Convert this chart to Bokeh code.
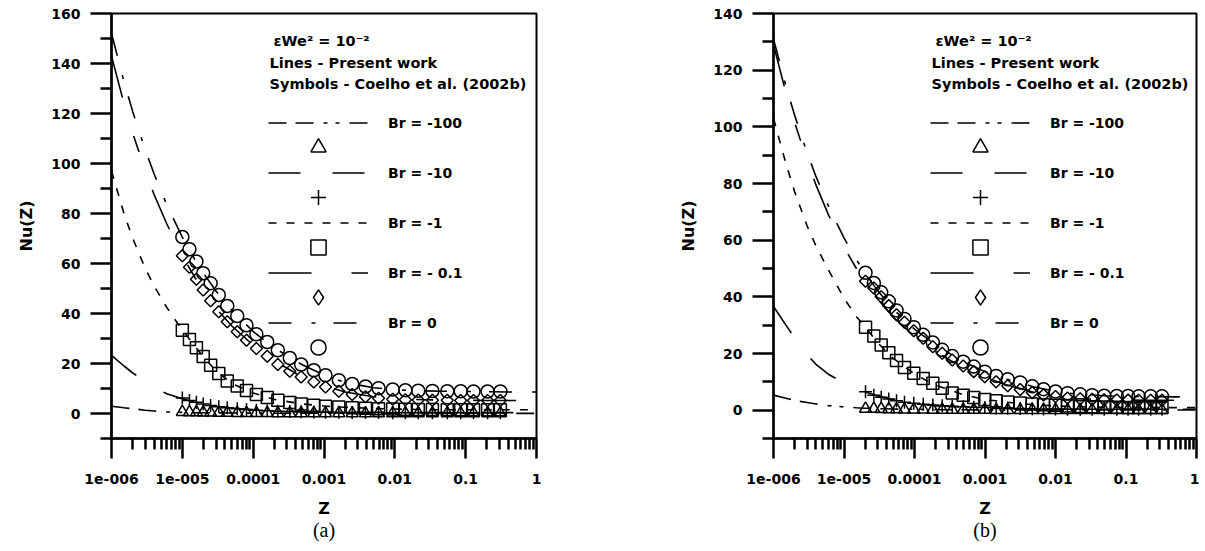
import math
from bokeh.plotting import figure
from bokeh.layouts import row
from bokeh.models import Range1d, FixedTicker, Legend, LegendItem, Label, Title
from bokeh.embed import file_html
from bokeh.resources import INLINE

# ---------------- data ----------------
x_tick_values = [1e-6, 1e-5, 1e-4, 1e-3, 1e-2, 1e-1, 1.0]
x_tick_labels = ["1e-006", "1e-005", "0.0001", "0.001", "0.01", "0.1", "1"]
legend_labels = ["Br = -100", "Br = -10", "Br = -1", "Br = - 0.1", "Br = 0"]

z_line = [1e-6, 1.5e-6, 2e-6, 3e-6, 4e-6, 6e-6, 1e-5, 1.5e-5, 2e-5, 3e-5, 5e-5,
          1e-4, 2e-4, 5e-4, 1e-3, 2e-3, 5e-3, 1e-2, 2e-2, 5e-2, 0.1, 0.2, 0.5, 1.0]

# panel (a) lines
a_line_br100 = [2.9, 2.3, 1.9, 1.3, 1.0, 0.65, 0.45, 0.35, 0.3, 0.25, 0.2, 0.15, 0.12, 0.1, 0.08, 0.07, 0.06, 0.05, 0.05, 0.05, 0.05, 0.05, 0.05, 0.05]
a_line_br10 = [23.3, 19, 16.2, 12.8, 10.6, 7.9, 5.9, 4.6, 3.8, 3.0, 2.2, 1.5, 1.1, 0.75, 0.6, 0.5, 0.42, 0.38, 0.35, 0.35, 0.35, 0.35, 0.35, 0.35]
a_line_br1 = [97, 80, 70, 58, 51, 42.5, 33.3, 27, 22.5, 17, 12, 8.2, 5.6, 3.8, 3.0, 2.5, 2.0, 1.8, 1.6, 1.5, 1.5, 1.5, 1.5, 1.5]
a_line_br01 = [143, 124, 112, 97, 87.5, 76, 63, 54.5, 48.8, 42, 35, 27.3, 21, 14.5, 11.0, 8.6, 6.7, 6.0, 5.6, 5.35, 5.25, 5.2, 5.2, 5.2]
a_line_br0 = [152, 132.8, 120.6, 105.4, 95.8, 83.6, 70.5, 61.6, 56.0, 48.9, 41.3, 32.8, 26.2, 19.4, 15.4, 12.4, 10.3, 9.5, 9.1, 8.9, 8.8, 8.7, 8.6, 8.6]

# panel (a) symbols
z_sym_a = [1.0e-5, 1.26e-5, 1.58e-5, 1.97e-5, 2.51e-5, 3.27e-5, 4.31e-5, 5.96e-5, 8.05e-5, 1.11e-4,
           1.58e-4, 2.23e-4, 3.29e-4, 4.76e-4, 7.18e-4, 1.05e-3, 1.62e-3, 2.50e-3, 3.85e-3, 5.89e-3,
           9.33e-3, 1.41e-2, 2.14e-2, 3.39e-2, 5.50e-2, 8.51e-2, 0.129, 0.204, 0.309]
a_sym_br100 = [0.6, 0.5, 0.45, 0.4, 0.35, 0.3, 0.25, 0.2, 0.2, 0.15, 0.15, 0.1, 0.1, 0.1, 0.1, 0.05, 0.05, 0.05, 0.05, 0.05, 0.05, 0.05, 0.05, 0.05, 0.05, 0.05, 0.05, 0.05, 0.05]
a_sym_br10 = [6.2, 5.2, 4.5, 3.8, 3.2, 2.7, 2.3, 1.9, 1.6, 1.3, 1.1, 0.95, 0.8, 0.7, 0.6, 0.55, 0.5, 0.45, 0.4, 0.4, 0.35, 0.35, 0.3, 0.3, 0.3, 0.3, 0.3, 0.3, 0.3]
a_sym_br1 = [33.3, 29.6, 26.3, 22.8, 19.3, 16.0, 13.0, 11.0, 9.2, 7.6, 6.4, 5.3, 4.4, 3.8, 3.3, 2.9, 2.6, 2.3, 2.1, 1.9, 1.8, 1.7, 1.6, 1.6, 1.5, 1.5, 1.5, 1.5, 1.5]
a_sym_br01 = [63.1, 58.5, 53.7, 49.4, 45.1, 40.7, 36.7, 32.7, 29.3, 26.0, 22.9, 19.6, 16.9, 14.6, 12.6, 10.6, 8.9, 7.6, 6.7, 6.1, 5.7, 5.5, 5.4, 5.3, 5.3, 5.2, 5.2, 5.2, 5.2]
a_sym_br0 = [70.6, 65.7, 60.8, 56.1, 52.1, 47.4, 43.0, 39.0, 35.3, 31.7, 28.6, 25.3, 22.2, 19.6, 17.3, 15.3, 13.3, 11.8, 10.8, 10.1, 9.6, 9.3, 9.1, 9.0, 8.9, 8.9, 8.8, 8.8, 8.8]

# panel (b) lines
b_line_br100 = [5.3, 4.2, 3.4, 2.7, 2.2, 1.6, 1.15, 0.85, 0.7, 0.55, 0.4, 0.3, 0.2, 0.15, 0.1, 0.08, 0.06, 0.05, 0.05, 0.05, 0.05, 0.05, 0.05, 0.05]
b_line_br10 = [36.6, 30, 25.5, 19.5, 16.2, 12.7, 9.6, 7.6, 6.4, 5.1, 3.7, 2.4, 1.6, 1.0, 0.75, 0.55, 0.4, 0.35, 0.3, 0.3, 0.3, 0.3, 0.3, 0.3]
b_line_br1 = [103, 87, 77, 65, 58, 49.5, 39.5, 33, 29.3, 23.8, 18.3, 12.7, 8.8, 5.4, 3.8, 2.8, 1.9, 1.5, 1.2, 1.0, 0.95, 0.9, 0.9, 0.9]
b_line_br01 = [129, 112, 101.5, 88, 79.5, 69, 57.5, 50, 45.3, 39.3, 32.8, 26.0, 20.6, 14.8, 11.6, 9.0, 6.2, 4.8, 4.1, 3.7, 3.55, 3.5, 3.5, 3.5]
b_line_br0 = [131, 114.4, 104, 90.8, 82.5, 72.1, 60.8, 53.1, 48.3, 42.2, 35.6, 28.6, 23.0, 17.0, 13.6, 11.0, 8.2, 6.6, 5.7, 5.1, 4.9, 4.8, 4.7, 4.7]

# panel (b) symbols
z_sym_b = [2.02e-5, 2.65e-5, 3.37e-5, 4.32e-5, 5.56e-5, 7.21e-5, 9.77e-5, 1.33e-4, 1.82e-4, 2.47e-4,
           3.43e-4, 4.91e-4, 6.93e-4, 9.93e-4, 1.44e-3, 2.10e-3, 3.16e-3, 4.68e-3, 6.76e-3, 1.0e-2,
           1.48e-2, 2.24e-2, 3.31e-2, 4.90e-2, 7.41e-2, 0.107, 0.151, 0.224, 0.324]
b_sym_br100 = [0.5, 0.45, 0.4, 0.35, 0.3, 0.25, 0.2, 0.2, 0.15, 0.15, 0.1, 0.1, 0.1, 0.1, 0.05, 0.05, 0.05, 0.05, 0.05, 0.05, 0.05, 0.05, 0.05, 0.05, 0.05, 0.05, 0.05, 0.05, 0.05]
b_sym_br10 = [6.5, 5.3, 4.6, 3.9, 3.3, 2.8, 2.4, 2.1, 1.8, 1.6, 1.4, 1.2, 1.0, 0.9, 0.8, 0.7, 0.6, 0.5, 0.45, 0.4, 0.35, 0.3, 0.3, 0.3, 0.3, 0.3, 0.3, 0.3, 0.3]
b_sym_br1 = [29.3, 26.2, 23.0, 20.3, 17.5, 15.1, 13.0, 11.2, 9.5, 7.7, 6.1, 5.3, 4.5, 3.8, 3.3, 2.9, 2.5, 2.2, 1.9, 1.7, 1.5, 1.3, 1.2, 1.1, 1.0, 0.95, 0.9, 0.9, 0.9]
b_sym_br01 = [45.5, 43.1, 40.0, 36.9, 33.7, 31.0, 28.0, 25.4, 22.4, 20.1, 17.7, 15.6, 13.6, 11.8, 10.0, 8.6, 7.3, 6.2, 5.4, 4.8, 4.3, 4.0, 3.8, 3.7, 3.6, 3.55, 3.5, 3.5, 3.5]
b_sym_br0 = [48.5, 44.9, 41.6, 38.4, 35.2, 32.2, 29.3, 26.6, 23.9, 21.3, 19.1, 17.1, 15.4, 13.6, 12.1, 10.9, 9.8, 8.4, 7.4, 6.6, 6.0, 5.6, 5.3, 5.1, 5.0, 5.0, 4.9, 4.9, 4.9]

# ---------------- styles ----------------
DASHES = ["18 9 18 10 4 8 4 10", "32 32", "8 10", "43 40 17 40", "23 20 4 18"]
MARKERS = [dict(marker="triangle", size=12),
           dict(marker="cross", size=13),
           dict(marker="square", size=12),
           dict(marker="square", size=8.5, angle=math.pi / 4),
           dict(marker="circle", size=13)]
FONT = "DejaVu Sans"


def make_panel(ymax, frame_w, left, right, tag, line_sets, z_sym, sym_sets):
    p = figure(x_axis_type="log", x_range=Range1d(1e-6, 1.0), y_range=Range1d(-10, ymax),
               frame_width=frame_w, frame_height=425,
               min_border_left=left, min_border_right=right, min_border_top=13, min_border_bottom=106,
               output_backend="svg", toolbar_location=None)
    p.xgrid.visible = False
    p.ygrid.visible = False
    p.outline_line_color = "black"
    p.outline_line_width = 2
    p.outline_line_alpha = 1

    minor_x = [m * 10.0 ** e for e in range(-6, 0) for m in range(2, 10)]
    p.xaxis.ticker = FixedTicker(ticks=x_tick_values, minor_ticks=minor_x)
    p.xaxis.major_label_overrides = {v: s for v, s in zip(x_tick_values, x_tick_labels)}
    p.yaxis.ticker = FixedTicker(ticks=list(range(0, ymax + 1, 20)),
                                 minor_ticks=list(range(-10, ymax, 20)))
    for ax in (p.xaxis[0], p.yaxis[0]):
        ax.axis_line_width = 2.5
        ax.major_tick_line_width = 2.5
        ax.minor_tick_line_width = 2.5
        ax.major_tick_in = 0
        ax.minor_tick_in = 0
        ax.major_label_text_font = FONT
        ax.major_label_text_font_style = "bold"
        ax.major_label_text_font_size = "14px"
        ax.major_label_text_color = "black"
        ax.axis_label_text_font = FONT
        ax.axis_label_text_font_style = "bold"
        ax.axis_label_text_font_size = "16px"
        ax.axis_label_text_color = "black"
    p.xaxis.major_tick_out = 20
    p.xaxis.minor_tick_out = 11
    p.xaxis.major_label_standoff = 15
    p.xaxis.axis_label = "Z"
    p.xaxis.axis_label_standoff = 12
    p.yaxis.major_tick_out = 21
    p.yaxis.minor_tick_out = 11
    p.yaxis.major_label_standoff = 10
    p.yaxis.axis_label = "Nu(Z)"
    p.yaxis.axis_label_standoff = 12

    line_items, sym_items = [], []
    for i in range(5):
        rl = p.line(z_line, line_sets[i], line_color="black", line_width=1.6, line_dash=DASHES[i])
        rs = p.scatter(z_sym, sym_sets[i], line_color="black", line_width=1.5, fill_color=None,
                       **MARKERS[i])
        line_items.append(LegendItem(label=legend_labels[i], renderers=[rl]))
        if MARKERS[i].get("angle"):
            # legend key for the rotated-square (diamond) symbol; its point is not drawn
            rk = p.scatter([float("nan")], [float("nan")], marker="diamond", size=13,
                           line_color="black", line_width=1.5, fill_color=None)
            sym_items.append(LegendItem(label="", renderers=[rk]))
        else:
            sym_items.append(LegendItem(label="", renderers=[rs]))

    common = dict(glyph_width=100, padding=0, margin=0, label_standoff=20,
                  background_fill_alpha=0, border_line_alpha=0,
                  label_text_font=FONT, label_text_font_style="bold",
                  label_text_font_size="14px", label_text_color="black")
    leg_lines = Legend(items=line_items, location=(157, 103), glyph_height=25,
                       label_height=25, spacing=25, **common)
    leg_syms = Legend(items=sym_items, location=(157, 72), glyph_height=38,
                      label_height=38, spacing=12, **common)
    p.add_layout(leg_lines)
    p.add_layout(leg_syms)

    head = [("\u03b5We\u00b2 = 10\u207b\u00b2", 162, 398),
            ("Lines - Present work", 158, 376),
            ("Symbols - Coelho et al. (2002b)", 158, 355)]
    for txt, hx, hy in head:
        p.add_layout(Label(x=hx, y=hy, x_units="screen", y_units="screen", text=txt,
                           text_font=FONT, text_font_style="bold", text_font_size="14.5px",
                           text_baseline="middle", text_color="black"))

    p.add_layout(Title(text=tag, align="center", text_font="Liberation Serif", standoff=-8,
                       text_font_style="normal", text_font_size="20px", text_color="black"),
                 "below")
    return p


pa = make_panel(160, 425, 111, 60, "(a)",
                [a_line_br100, a_line_br10, a_line_br1, a_line_br01, a_line_br0],
                z_sym_a, [a_sym_br100, a_sym_br10, a_sym_br1, a_sym_br01, a_sym_br0])
pb = make_panel(140, 423, 177, 3, "(b)",
                [b_line_br100, b_line_br10, b_line_br1, b_line_br01, b_line_br0],
                z_sym_b, [b_sym_br100, b_sym_br10, b_sym_br1, b_sym_br01, b_sym_br0])

layout = row(pa, pb)
open("out.html", "w").write(file_html(layout, INLINE))
